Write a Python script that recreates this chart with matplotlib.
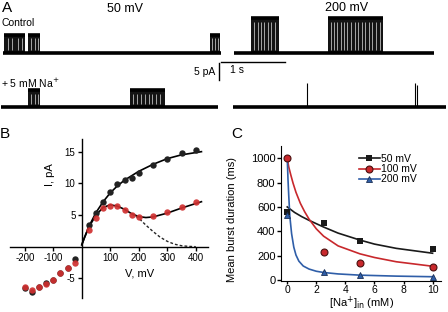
import matplotlib
matplotlib.use('Agg')
import matplotlib.pyplot as plt
from matplotlib.lines import Line2D

plt.rcParams['font.family'] = ['Liberation Sans', 'DejaVu Sans']
plt.rcParams['axes.unicode_minus'] = False

# ---- panel A : single channel traces (time in s, current in pA) ----
ctl50_span = [0.05, 3.45]
ctl50_amp = 5.4
ctl50_bursts = [(0.06, 0.39), (0.44, 0.63), (3.28, 3.44)]
ctl50_gaps = [0.125, 0.19, 0.28, 0.34, 0.48, 0.55, 0.59, 3.31, 3.36, 3.41]

ctl200_span = [3.66, 6.78]
ctl200_amp = 10.3
ctl200_bursts = [(3.92, 4.36), (5.13, 5.98)]
ctl200_gaps = [3.97, 4.03, 4.08, 4.13, 4.19, 4.23, 4.30,
               5.17, 5.22, 5.27, 5.33, 5.38, 5.42, 5.48, 5.55, 5.59,
               5.66, 5.70, 5.77, 5.81, 5.88, 5.94]

na50_span = [0.01, 3.41]
na50_amp = 5.0
na50_bursts = [(0.44, 0.63), (2.03, 2.58)]
na50_gaps = [0.48, 0.55, 0.59, 2.08, 2.14, 2.20, 2.27, 2.33, 2.38, 2.44, 2.50]

na200_span = [3.64, 6.97]
na200_spikes = [(4.80, 7.2), (6.48, 7.0), (6.52, 6.5)]

top_offset = 15.9   # baseline of control traces
bot_offset = 0.0    # baseline of + Na traces

# ---- panel B : I-V ----
V_pts = [25, 50, 75, 100, 125, 150, 175, 200, 250, 300, 350, 400]
I_ctl = [3.5, 5.3, 7.0, 8.6, 9.9, 10.5, 10.8, 11.6, 12.9, 13.9, 14.8, 15.2]
I_na = [2.7, 4.5, 6.1, 6.5, 6.4, 5.8, 5.0, 4.7, 4.9, 5.4, 6.2, 7.1]
V_neg = [-200, -175, -150, -125, -100, -75, -50, -25]
I_ctl_neg = [-6.6, -7.1, -6.4, -5.7, -5.3, -4.2, -3.4, -2.0]
I_na_neg = [-6.3, -6.8, -6.3, -5.9, -5.3, -4.2, -3.4, -2.6]

fitV_ctl = [0, 10, 25, 50, 75, 100, 125, 150, 200, 250, 300, 350, 420]
fitI_ctl = [0.3, 1.5, 3.2, 5.4, 7.1, 8.5, 9.6, 10.5, 11.9, 13.0, 13.9, 14.5, 15.0]
fitV_na = [0, 10, 25, 50, 75, 100, 125, 150, 175, 200, 225, 250, 300, 350, 420]
fitI_na = [0.3, 1.5, 3.1, 5.0, 6.2, 6.6, 6.4, 5.9, 5.2, 4.75, 4.6, 4.7, 5.3, 6.1, 7.1]
fitV_dash = [175, 200, 225, 250, 275, 300, 325, 350, 375, 400]
fitI_dash = [5.2, 4.5, 3.4, 2.4, 1.5, 0.85, 0.4, 0.15, 0.05, 0.0]

# ---- panel C : burst duration ----
na_conc = [0, 2.5, 5, 10]
dur_50 = [560, 470, 320, 255]
dur_100 = [1000, 233, 137, 110]
dur_200 = [530, 62, 38, 28]

fitx_50 = [0, 0.5, 1, 1.5, 2.5, 3.5, 5, 6, 7.5, 10]
fity_50 = [600, 555, 520, 490, 435, 385, 328, 295, 260, 220]
fitx_100 = [0, 0.1, 0.25, 0.4, 0.6, 0.9, 1.2, 1.5, 2, 2.5, 3.5, 5, 6, 7.5, 10]
fity_100 = [1000, 930, 860, 795, 720, 630, 560, 500, 420, 360, 280, 215, 185, 150, 113]
fitx_200 = [0, 0.05, 0.1, 0.18, 0.3, 0.45, 0.6, 0.8, 1.1, 1.5, 2, 2.5, 3.5, 5, 7.5, 10]
fity_200 = [1000, 830, 700, 520, 380, 270, 205, 155, 115, 90, 72, 62, 50, 40, 32, 27]

W, H = 448, 312
fig = plt.figure(figsize=(W / 100, H / 100), dpi=100)


def px_rect(l, t, r, b):
    return [l / W, 1 - b / H, (r - l) / W, (b - t) / H]


def ftext(x, y, s, **kw):
    fig.text(x / W, 1 - y / H, s, **kw)


def draw_trace(ax, span, base, amp=0, bursts=(), gaps=(), spikes=()):
    ax.plot(span, [base, base], color='k', lw=2.6, solid_capstyle='butt')
    for a, b in bursts:
        ax.fill_between([a, b], base, base + amp, color='0.08', lw=0)
        ax.plot([a, b], [base + amp, base + amp], color='k', lw=2.6,
                solid_capstyle='butt')
    if len(gaps):
        ax.vlines(gaps, base + 1.0, base + amp - 1.1, color='0.65', lw=0.7)
    for t, h in spikes:
        ax.vlines(t, base, base + h, color='k', lw=0.8)


# panel A
axA = fig.add_axes(px_rect(0, 0, 448, 115))
axA.set_xlim(0, 7.0)
axA.set_ylim(-2.35, 31.47)
axA.axis('off')
draw_trace(axA, ctl50_span, top_offset, ctl50_amp, ctl50_bursts, ctl50_gaps)
draw_trace(axA, ctl200_span, top_offset, ctl200_amp, ctl200_bursts, ctl200_gaps)
draw_trace(axA, na50_span, bot_offset, na50_amp, na50_bursts, na50_gaps)
draw_trace(axA, na200_span, bot_offset, spikes=na200_spikes)
# scale bars 5 pA / 1 s
axA.plot([3.42, 3.42], [7.9, 12.9], color='k', lw=1.0)
axA.plot([3.46, 4.46], [13.2, 13.2], color='k', lw=1.0)

ftext(2, 8, 'A', fontsize=11, va='center')
ftext(125, 9, '50 mV', fontsize=9, ha='center', va='center')
ftext(347, 8, '200 mV', fontsize=9, ha='center', va='center')
ftext(2, 23, 'Control', fontsize=7.5, va='center')
ftext(215, 72, '5 pA', fontsize=7.5, ha='right', va='center')
ftext(230, 70, '1 s', fontsize=7.5, va='center')
ftext(1, 83, '+ 5 mM Na$^{+}$', fontsize=7.5, va='center')

# panel B
axB = fig.add_axes(px_rect(10, 139, 208, 298))
axB.set_xlim(-252, 443)
axB.set_ylim(-8.1, 17.0)
for s in ['top', 'right']:
    axB.spines[s].set_visible(False)
axB.spines['left'].set_position(('data', 0))
axB.spines['bottom'].set_position(('data', 0))
for s in ['left', 'bottom']:
    axB.spines[s].set_linewidth(1.0)
axB.set_xticks([-200, -100, 100, 200, 300, 400])
axB.set_yticks([15, 10, 5, -5])
axB.tick_params(direction='out', length=3, width=1, labelsize=7, pad=1.5)
axB.plot(fitV_ctl, fitI_ctl, color='k', lw=1.2)
axB.plot(fitV_na, fitI_na, color='k', lw=1.2)
axB.plot(fitV_dash, fitI_dash, color='0.15', lw=1.0, ls=(0, (2, 1.5)))
axB.plot(V_pts, I_ctl, 'o', color='#222222', ms=4.6, mew=0)
axB.plot(V_neg, I_ctl_neg, 'o', color='#222222', ms=4.6, mew=0)
axB.plot(V_pts, I_na, 'o', color='#d03030', ms=4.6, mew=0, alpha=0.92)
axB.plot(V_neg, I_na_neg, 'o', color='#d03030', ms=4.6, mew=0, alpha=0.92)
ftext(5, 134, 'B', fontsize=11, ha='center', va='center')
ftext(50, 175, 'I, pA', fontsize=8, ha='center', va='center', rotation=90)
ftext(140, 273, 'V, mV', fontsize=8, ha='center', va='center')

# panel C
axC = fig.add_axes(px_rect(281, 146, 441, 281))
axC.set_xlim(-0.43, 10.58)
axC.set_ylim(-8, 1100)
for s in ['top', 'right']:
    axC.spines[s].set_visible(False)
axC.set_xticks([0, 2, 4, 6, 8, 10])
axC.set_yticks([0, 200, 400, 600, 800, 1000])
axC.tick_params(direction='out', length=3, width=1, labelsize=8, pad=1)
axC.tick_params(axis='x', pad=0.5, length=2.5, labelsize=7.5)
c50, c100, c200 = '#1a1a1a', '#c8282c', '#2f5ea8'
axC.plot(fitx_50, fity_50, color=c50, lw=1.2)
axC.plot(fitx_100, fity_100, color=c100, lw=1.2)
axC.plot(fitx_200, fity_200, color=c200, lw=1.2)
axC.plot(na_conc, dur_50, 's', color=c50, ms=5, mew=0)
axC.plot(na_conc, dur_100, 'o', mfc=c100, mec='#4a1010', ms=5, mew=0.8)
axC.plot(na_conc, dur_200, '^', mfc=c200, mec='#1a2f55', ms=5, mew=0.6)
handles = [
    Line2D([], [], color=c50, lw=1.2, marker='s', ms=5, mew=0),
    Line2D([], [], color=c100, lw=1.2, marker='o', mfc=c100, mec='#4a1010', ms=5, mew=0.8),
    Line2D([], [], color=c200, lw=1.2, marker='^', mfc=c200, mec='#1a2f55', ms=5, mew=0.6),
]
fig.legend(handles, ['50 mV', '100 mV', '200 mV'], loc='upper left',
           bbox_to_anchor=(359 / W, 1 - 154 / H), frameon=False, fontsize=7.5,
           handlelength=2.0, handletextpad=0.15, labelspacing=0.02,
           borderpad=0, borderaxespad=0)
ftext(237, 134, 'C', fontsize=11, ha='center', va='center')
ftext(232, 220, 'Mean burst duration (ms)', fontsize=8, ha='center',
      va='center', rotation=90)
ftext(362, 312, '[Na$^{+}$]$_{\\mathrm{in}}$ (mM)', fontsize=8, ha='center',
      va='bottom')

fig.savefig('out.png', dpi=100)
